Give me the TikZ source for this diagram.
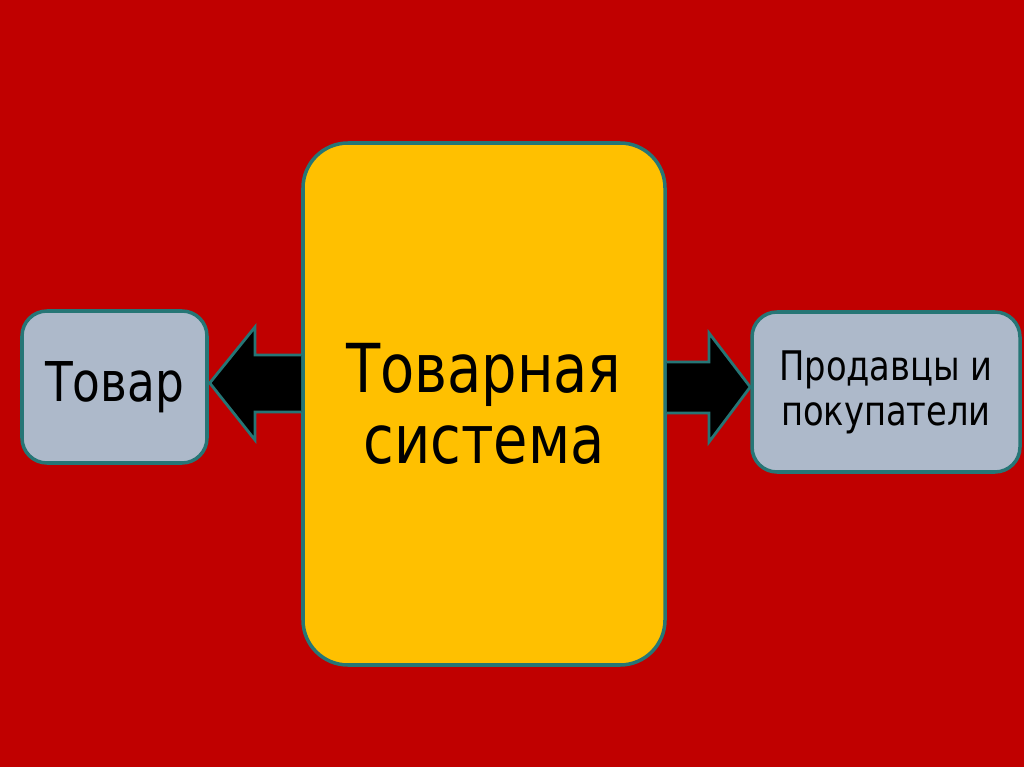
\documentclass[tikz,border=0pt]{standalone}
\usepackage{fontspec}
\setmainfont[FakeStretch=0.92]{DejaVu Sans Condensed}
\usetikzlibrary{calc}
\definecolor{bgred}{RGB}{192,0,0}
\definecolor{sysyellow}{RGB}{255,192,0}
\definecolor{boxgray}{RGB}{173,185,202}
\definecolor{edgeteal}{RGB}{38,118,118}
\newlength\pxu
\setlength\pxu{0.025cm}
\tikzset{
  box/.style={draw=edgeteal, line width=2.5pt, rounded corners=25*\pxu, fill=boxgray, align=center, inner sep=0pt},
  blockarrow/.style={fill=black, draw=edgeteal, line width=2pt, line join=miter},
}
\begin{document}
\begin{tikzpicture}[x=0.025cm, y=-0.025cm]
        \fill[bgred] (0,0) rectangle (1024,767);
        \useasboundingbox (0,0) rectangle (1024,767);

        \node[box, fill=sysyellow, rounded corners=45*\pxu, minimum width=362*\pxu, minimum height=522*\pxu,
              font=\fontsize{48}{50}\selectfont] (sys) at (484,404) {Товарная\\система};
        \node[box, minimum width=185*\pxu, minimum height=152*\pxu,
              font=\fontsize{39}{44}\selectfont] (goods) at (114.5,387) {Товар};
        \node[box, minimum width=268*\pxu, minimum height=160*\pxu,
              font=\fontsize{29}{32}\selectfont] (people) at (886,392) {Продавцы и\\покупатели};

        % left arrow: system -> goods
        \filldraw[blockarrow] (sys.west |- 0,355) -- (255,355) -- (255,327) -- ($(goods.east)+(1,-4)$)
            -- (255,440) -- (255,412) -- (sys.west |- 0,412);
        % right arrow: system -> sellers and buyers
        \filldraw[blockarrow] (sys.east |- 0,362) -- (709,362) -- (709,333) -- ($(people.west)+(0,-5)$)
            -- (709,442) -- (709,413) -- (sys.east |- 0,413);
\end{tikzpicture}
\end{document}
